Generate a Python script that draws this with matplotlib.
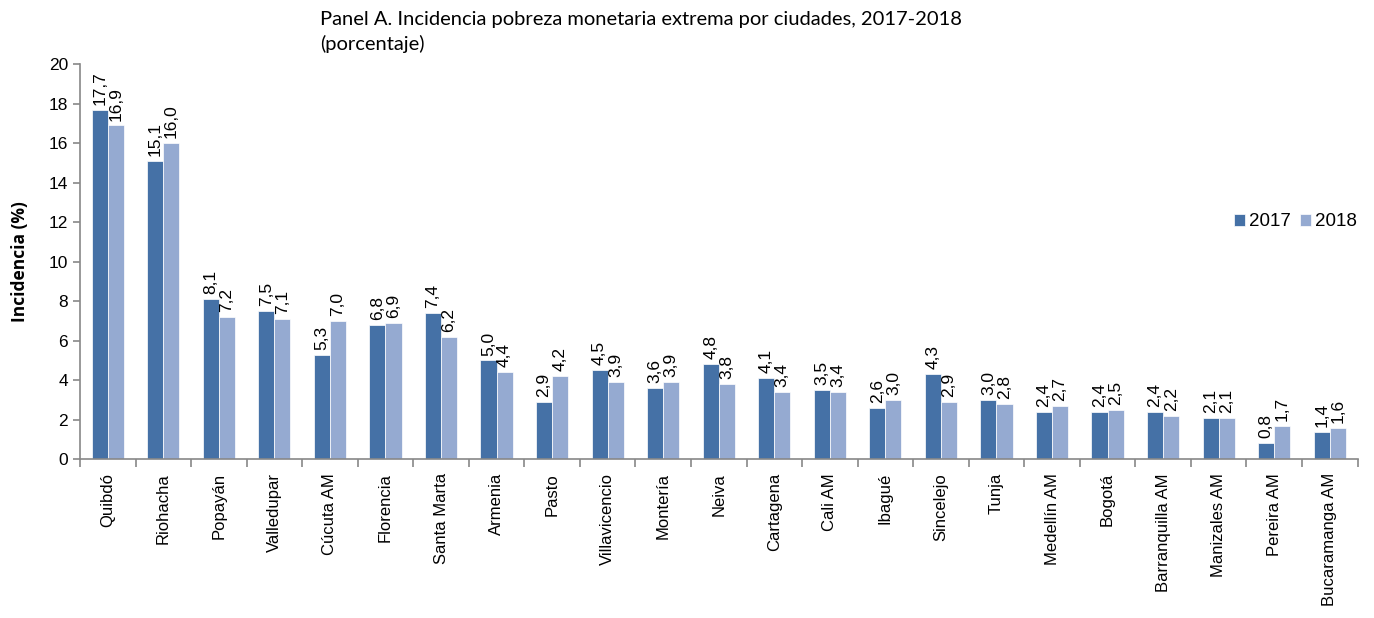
import numpy as np
from matplotlib import pyplot as plt

ciudades = ['Quibdó', 'Riohacha', 'Popayán', 'Valledupar', 'Cúcuta AM', 'Florencia',
            'Santa Marta', 'Armenia', 'Pasto', 'Villavicencio', 'Montería', 'Neiva',
            'Cartagena', 'Cali AM', 'Ibagué', 'Sincelejo', 'Tunja', 'Medellín AM',
            'Bogotá', 'Barranquilla AM', 'Manizales AM', 'Pereira AM', 'Bucaramanga AM']
v2017 = [17.7, 15.1, 8.1, 7.5, 5.3, 6.8, 7.4, 5.0, 2.9, 4.5, 3.6, 4.8, 4.1, 3.5,
         2.6, 4.3, 3.0, 2.4, 2.4, 2.4, 2.1, 0.8, 1.4]
v2018 = [16.9, 16.0, 7.2, 7.1, 7.0, 6.9, 6.2, 4.4, 4.2, 3.9, 3.9, 3.8, 3.4, 3.4,
         3.0, 2.9, 2.8, 2.7, 2.5, 2.2, 2.1, 1.7, 1.6]

plt.rcParams['font.family'] = ['Liberation Sans', 'DejaVu Sans']
c17 = '#4571a6'
c18 = '#95aad1'
grey = '#888888'

fig = plt.figure(figsize=(13.74, 6.18), dpi=100)
ax = fig.add_axes([0.0582, 0.257, 0.9298, 0.639])

x = np.arange(len(ciudades))
w = 0.29
ax.bar(x - w/2, v2017, w, color=c17, edgecolor='white', linewidth=0.5, label='2017')
ax.bar(x + w/2, v2018, w, color=c18, edgecolor='white', linewidth=0.5, label='2018')

for xi, a, b in zip(x, v2017, v2018):
    ax.text(xi - w/2, a + 0.25, f'{a:.1f}'.replace('.', ','), rotation=90,
            ha='center', va='bottom', fontsize=12.5)
    ax.text(xi + w/2, b + 0.25, f'{b:.1f}'.replace('.', ','), rotation=90,
            ha='center', va='bottom', fontsize=12.5)

ax.set_xlim(-0.5, len(ciudades) - 0.5)
ax.set_ylim(0, 20)
ax.set_yticks(range(0, 21, 2))
ax.set_xticks(x)
ax.set_xticklabels(ciudades, rotation=90, fontsize=12)
ax.set_xticks(np.arange(-0.5, len(ciudades)), minor=True)
ax.tick_params(axis='x', which='major', length=0, pad=10)
ax.tick_params(axis='x', which='minor', length=6, color=grey, width=1.2)
ax.tick_params(axis='y', length=5, color=grey, width=1.2, labelsize=12.5)

for s in ['top', 'right']:
    ax.spines[s].set_visible(False)
for s in ['left', 'bottom']:
    ax.spines[s].set_color(grey)
    ax.spines[s].set_linewidth(1.2)

ax.set_ylabel('Incidencia (%)', fontweight='bold', fontsize=12.5, labelpad=14,
              family=['Open Sans', 'DejaVu Sans'])

fig.text(0.233, 0.982, 'Panel A. Incidencia pobreza monetaria extrema por ciudades, 2017-2018\n(porcentaje)',
         family=['Lato', 'DejaVu Sans'], fontsize=14.5, ha='left', va='top', linespacing=1.45)

ax.legend(loc='upper left', bbox_to_anchor=(0.89, 0.665), frameon=False, ncol=2,
          fontsize=13.5, handlelength=0.6, handleheight=0.6, handletextpad=0.2,
          columnspacing=0.5)

fig.savefig('out.png', dpi=100)
